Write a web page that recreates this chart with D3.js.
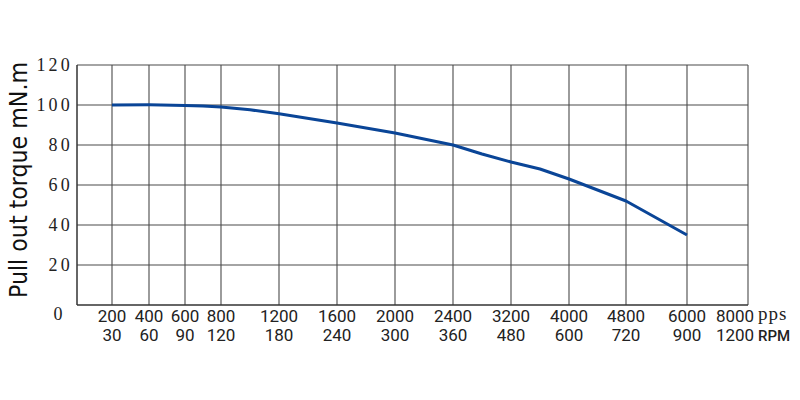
<!DOCTYPE html>
<html><head><meta charset="utf-8">
<script src="https://cdn.jsdelivr.net/npm/d3@7"></script>
<style>
body{margin:0;background:#fff}
text.serif{font-family:'Liberation Serif','DejaVu Serif',serif}
text.sans{font-family:Roboto,'Open Sans',sans-serif}
text.cond{font-family:'DejaVu Sans Condensed','DejaVu Sans',sans-serif}
</style>
</head><body>
<svg id="c" width="800" height="400"></svg>
<script>
// ---- data ----
const ppsTicks = [0, 200, 400, 600, 800, 1200, 1600, 2000, 2400, 3200, 4000, 4800, 6000, 8000];
const rpmLabels = ["", "30", "60", "90", "120", "180", "240", "300", "360", "480", "600", "720", "900", "1200"];
const yTicks = [0, 20, 40, 60, 80, 100, 120];
const curvePps = [200, 400, 600, 700, 800, 1000, 1200, 1600, 2000, 2400, 2800, 3200, 3600, 4000, 4800, 6000];
const curveTorque = [100, 100.1, 99.8, 99.5, 99, 97.6, 95.6, 91, 86, 80, 75.5, 71.5, 68, 63, 52, 35];

// ---- layout ----
const pL = 77, pR = 748, pT = 65, pB = 305;
// piecewise linear x scale (non-uniform spacing of the original grid)
const xRange = [77, 112, 149, 185, 221, 279, 337, 395, 453, 511, 569, 626, 687, 748];
const x = d3.scaleLinear().domain(ppsTicks).range(xRange);
const y = d3.scaleLinear().domain([0, 120]).range([pB, pT]);

const svg = d3.select("#c");
const g = svg.append("g");

// horizontal grid
g.selectAll("line.h").data(yTicks.slice(1)).enter().append("line")
  .attr("x1", pL).attr("x2", pR)
  .attr("y1", d => y(d)).attr("y2", d => y(d))
  .attr("stroke", "#4a4a4a").attr("stroke-width", 1.1);
// vertical grid
g.selectAll("line.v").data(ppsTicks.slice(1)).enter().append("line")
  .attr("x1", d => x(d)).attr("x2", d => x(d))
  .attr("y1", pT).attr("y2", pB)
  .attr("stroke", "#4a4a4a").attr("stroke-width", 1.1);
// frame left + bottom
g.append("line").attr("x1", pL).attr("x2", pL).attr("y1", pT).attr("y2", pB)
  .attr("stroke", "#333").attr("stroke-width", 1.5);
g.append("line").attr("x1", pL).attr("x2", pR).attr("y1", pB).attr("y2", pB)
  .attr("stroke", "#333").attr("stroke-width", 1.5);

// y tick labels (serif, spaced)
g.selectAll("text.yl").data(yTicks.slice(1)).enter().append("text")
  .attr("class", "serif")
  .attr("x", 73).attr("y", d => y(d) + 6)
  .attr("text-anchor", "end")
  .style("font-size", "18px").style("letter-spacing", "3.2px").attr("fill", "#222")
  .text(d => d);
// 0 label
g.append("text").attr("class", "serif").attr("x", 58).attr("y", 320).attr("text-anchor", "middle")
  .style("font-size", "18px").attr("fill", "#222")
  .text(yTicks[0]);

// x tick labels
const xl = ppsTicks.slice(1);
g.selectAll("text.xp").data(xl).enter().append("text")
  .attr("class", "sans")
  .attr("x", (d, i) => x(d) - (i === xl.length - 1 ? 13 : 0))
  .attr("y", 322).attr("text-anchor", "middle")
  .style("font-size", "17px").attr("fill", "#222")
  .text(d => d);
g.selectAll("text.xr").data(rpmLabels.slice(1)).enter().append("text")
  .attr("class", "sans")
  .attr("x", (d, i) => x(xl[i]) - (i === xl.length - 1 ? 13 : 0))
  .attr("y", 341).attr("text-anchor", "middle")
  .style("font-size", "17px").attr("fill", "#222")
  .text(d => d);
g.append("text").attr("class", "serif").attr("x", 758).attr("y", 320)
  .style("font-size", "19px").style("letter-spacing", "1px").attr("fill", "#222")
  .text("pps");
g.append("text").attr("class", "sans").attr("x", 758).attr("y", 341)
  .style("font-size", "15px").style("font-weight", "500").attr("fill", "#222")
  .text("RPM");

// y title
g.append("text").attr("class", "cond")
  .attr("transform", "translate(27,298) rotate(-90)")
  .style("font-size", "25px")
  .attr("textLength", 236).attr("lengthAdjust", "spacingAndGlyphs")
  .attr("fill", "#111")
  .text("Pull out torque mN.m");

// curve
const pts = curvePps.map((p, i) => [p, curveTorque[i]]);
g.append("path").datum(pts)
  .attr("fill", "none").attr("stroke", "#0a4597").attr("stroke-width", 3)
  .attr("stroke-linejoin", "round")
  .attr("d", d3.line().x(d => x(d[0])).y(d => y(d[1])));
</script>
</body></html>
